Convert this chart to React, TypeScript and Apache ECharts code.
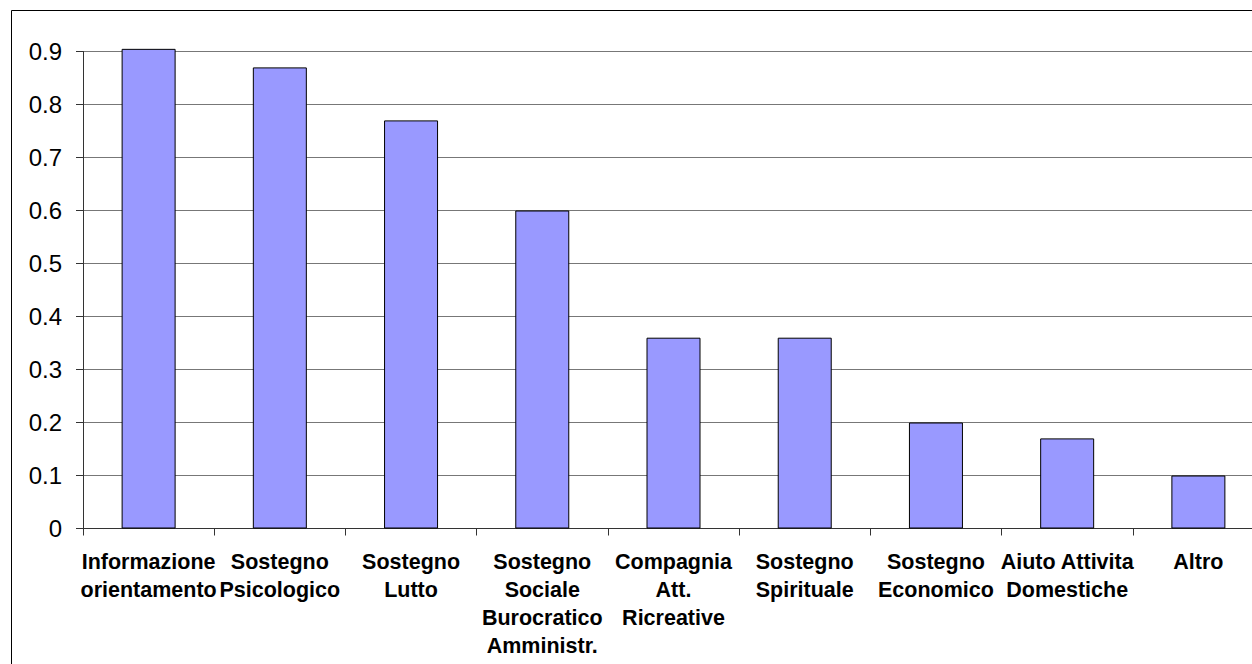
import React, { useEffect, useRef } from "react";
import * as echarts from "echarts";

const categories = [
  "Informazione\norientamento",
  "Sostegno\nPsicologico",
  "Sostegno\nLutto",
  "Sostegno\nSociale\nBurocratico\nAmministr.",
  "Compagnia\nAtt.\nRicreative",
  "Sostegno\nSpirituale",
  "Sostegno\nEconomico",
  "Aiuto Attivita\nDomestiche",
  "Altro",
];
const values = [0.905, 0.87, 0.77, 0.6, 0.36, 0.36, 0.2, 0.17, 0.1];

export default function App() {
  const ref = useRef<HTMLDivElement>(null);
  useEffect(() => {
    document.body.style.margin = "0";
    const chart = echarts.init(ref.current!, null, { renderer: "svg" });
    chart.setOption({
      animation: false,
      backgroundColor: "#ffffff",
      textStyle: { fontFamily: "Liberation Sans, Arial, sans-serif" },
      graphic: [
        {
          type: "rect",
          shape: { x: 11.5, y: 10.5, width: 1400, height: 800 },
          style: { fill: "none", stroke: "#000", lineWidth: 1 },
          z: 100,
        },
      ],
      grid: { left: 83, top: 51.5, width: 1181, height: 477 },
      xAxis: {
        type: "category",
        data: categories,
        axisLine: { lineStyle: { color: "#333", width: 1 } },
        axisTick: { show: true, length: 7, lineStyle: { color: "#333" } },
        axisLabel: {
          interval: 0,
          fontSize: 21.5,
          fontWeight: "bold",
          color: "#000",
          lineHeight: 28,
          margin: 19,
          fontFamily: "Liberation Sans, Arial, sans-serif",
        },
      },
      yAxis: {
        type: "value",
        min: 0,
        max: 0.9,
        interval: 0.1,
        axisLine: { show: true, lineStyle: { color: "#333", width: 1 } },
        axisTick: { show: true, length: 7, lineStyle: { color: "#333" } },
        splitLine: { show: true, lineStyle: { color: "#777", width: 1 } },
        axisLabel: {
          fontSize: 24,
          color: "#000",
          margin: 21,
          formatter: (v: number) => (Math.round(v * 10) / 10).toString(),
          fontFamily: "Liberation Sans, Arial, sans-serif",
        },
      },
      series: [
        {
          type: "bar",
          data: values,
          barWidth: 54,
          clip: false,
          itemStyle: { color: "#9999FF", borderColor: "#000", borderWidth: 1 },
        },
      ],
    });
    return () => chart.dispose();
  }, []);
  return (
    <div style={{ width: 1252, height: 664, overflow: "hidden", position: "relative" }}>
      <div ref={ref} style={{ width: 1290, height: 664 }} />
    </div>
  );
}
